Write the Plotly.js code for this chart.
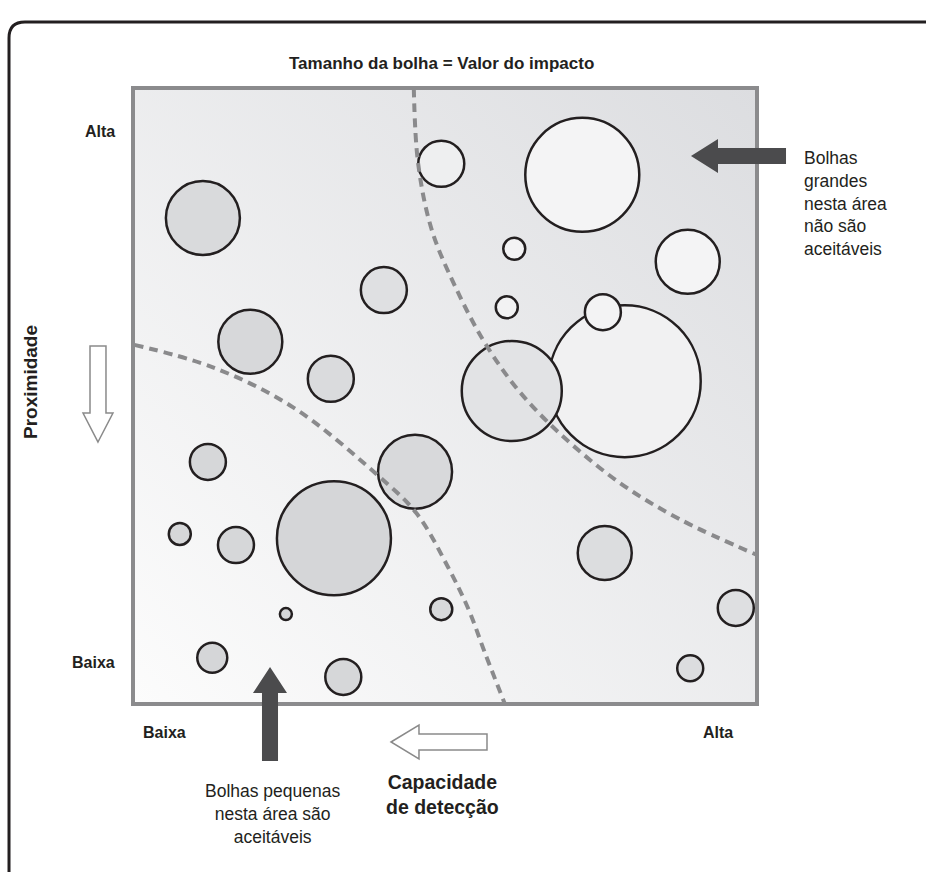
<!DOCTYPE html>
<html>
<head>
<meta charset="utf-8">
<script src="https://cdn.plot.ly/plotly-3.0.1.min.js"></script>
<style>
  body { margin: 0; background: #fff; }
  #chart { width: 926px; height: 872px; }
</style>
</head>
<body>
<div id="chart"></div>
<script>
// Bubble data (detection capacity on x, proximity on y, impact value = bubble diameter)
const capacidade = [4.94, 7.20, 1.12, 6.11, 8.89, 4.02, 5.99, 7.88, 6.07, 7.53, 1.88, 3.17, 1.20, 4.52, 0.75, 1.65, 3.22, 7.56, 4.94, 2.45, 9.66, 1.27, 3.37, 8.93];
const proximidade = [8.77, 8.59, 7.89, 7.39, 7.18, 6.72, 6.44, 5.24, 5.08, 6.36, 5.88, 5.28, 3.93, 3.77, 2.76, 2.58, 2.69, 2.45, 1.54, 1.46, 1.56, 0.75, 0.44, 0.58];
const impacto = [46, 114, 74, 22, 64, 46, 22, 152, 100, 36, 64, 46, 36, 74, 22, 36, 114, 54, 22, 12, 36, 30, 36, 26];
const corBolha = ['#eeeff0', '#f4f4f5', '#d9dadc', '#f3f3f4', '#f4f4f5', '#dfe0e2', '#f2f2f3', '#f1f1f2', '#e2e3e5', '#f3f3f4',
  '#d7d8da', '#dadbdd', '#d6d7d9', '#d8d9db', '#d6d7d9', '#d6d7d9', '#d5d6d8', '#dcdddf', '#d8d9db', '#d6d7d9',
  '#dedfe1', '#d5d6d8', '#d6d7d9', '#dcdddf'];

// Dashed boundaries between the zones
const limiteAltoX = [4.50, 4.57, 4.79, 5.19, 5.64, 6.17, 6.83, 7.80, 8.78, 10.0];
const limiteAltoY = [10.0, 8.77, 7.69, 6.72, 5.86, 5.10, 4.40, 3.59, 2.99, 2.42];
const limiteBaixoX = [0.02, 1.27, 2.56, 3.88, 4.54, 5.05, 5.38, 5.64, 5.96];
const limiteBaixoY = [5.83, 5.47, 4.82, 3.75, 3.10, 2.22, 1.53, 0.83, 0.0];

// plot area in pixels
const L = 133, T = 88, W = 624, H = 616;
const px = (x) => (x - L) / W;
const py = (y) => (T + H - y) / H;
const pt = (x, y) => px(x).toFixed(4) + ',' + py(y).toFixed(4);
const path = (pts) => 'M' + pts.map(p => pt(p[0], p[1])).join(' L') + ' Z';

const sans = 'Liberation Sans, Arial, sans-serif';

const bg = "<svg xmlns='http://www.w3.org/2000/svg' width='624' height='616'>" +
  "<defs><linearGradient id='g' x1='0' y1='1' x2='1' y2='0'>" +
  "<stop offset='0' stop-color='#fcfcfc'/><stop offset='1' stop-color='#dcdde0'/>" +
  "</linearGradient></defs><rect width='624' height='616' fill='url(#g)'/></svg>";

const data = [{
  type: 'scatter',
  mode: 'markers',
  x: capacidade,
  y: proximidade,
  marker: {
    size: impacto,
    sizemode: 'diameter',
    color: corBolha,
    opacity: 1,
    line: { color: '#231f20', width: 2.5 }
  },
  hoverinfo: 'skip',
  cliponaxis: false
}, {
  type: 'scatter',
  mode: 'lines',
  x: limiteAltoX,
  y: limiteAltoY,
  line: { color: '#8a8a8c', width: 4, dash: '9px,6px', shape: 'spline', smoothing: 1 },
  hoverinfo: 'skip'
}, {
  type: 'scatter',
  mode: 'lines',
  x: limiteBaixoX,
  y: limiteBaixoY,
  line: { color: '#8a8a8c', width: 4, dash: '9px,6px', shape: 'spline', smoothing: 1 },
  hoverinfo: 'skip'
}];

const axis = { range: [0, 10], showgrid: false, zeroline: false, showticklabels: false, showline: false, ticks: '', fixedrange: true };

const shapes = [
  // plot frame
  { type: 'rect', xref: 'paper', yref: 'paper', x0: 0, x1: 1, y0: 0, y1: 1, line: { color: '#8b8b8d', width: 4 }, layer: 'above' },
  // outer rounded frame (top-left corner only visible)
  { type: 'path', xref: 'paper', yref: 'paper', layer: 'above',
    path: 'M' + pt(9, 880) + ' L' + pt(9, 38) + ' Q' + pt(9, 22) + ' ' + pt(25, 22) + ' L' + pt(940, 22),
    line: { color: '#231f20', width: 3 } },
  // dark arrow pointing left (right side)
  { type: 'path', xref: 'paper', yref: 'paper', fillcolor: '#4b4b4d', line: { width: 0 },
    path: path([[691, 156], [718, 139], [718, 148], [786, 148], [786, 164], [718, 164], [718, 173]]) },
  // dark arrow pointing up (bottom)
  { type: 'path', xref: 'paper', yref: 'paper', fillcolor: '#4b4b4d', line: { width: 0 },
    path: path([[270, 667], [287, 693], [278, 693], [278, 761], [262, 761], [262, 693], [253, 693]]) },
  // outline arrow pointing down (proximity)
  { type: 'path', xref: 'paper', yref: 'paper', fillcolor: '#ffffff', line: { color: '#8a8a8a', width: 1.5 },
    path: path([[98, 442], [113, 413], [106, 413], [106, 346], [90, 346], [90, 413], [83, 413]]) },
  // outline arrow pointing left (detection capacity)
  { type: 'path', xref: 'paper', yref: 'paper', fillcolor: '#ffffff', line: { color: '#8a8a8a', width: 1.5 },
    path: path([[391, 742], [419, 725], [419, 734], [487, 734], [487, 750], [419, 750], [419, 759]]) }
];

function nota(text, x, y, font, xanchor) {
  return { text: text, x: px(x), y: py(y), xref: 'paper', yref: 'paper', showarrow: false,
    xanchor: xanchor || 'center', yanchor: 'middle', align: xanchor === 'left' ? 'left' : 'center', font: font };
}

const rotulo = { family: sans, size: 16, color: '#231f20', weight: 'bold' };
const titulo = { family: sans, size: 17, color: '#231f20', weight: 'bold' };
const texto = { family: sans, size: 17.5, color: '#231f20' };
const negrito = { family: sans, size: 19.5, color: '#231f20', weight: 'bold' };

const annotations = [
  nota('Tamanho da bolha = Valor do impacto', 441, 63, titulo),
  nota('Alta', 117, 132, rotulo, 'right'),
  nota('Baixa', 117, 662, rotulo, 'right'),
  nota('Baixa', 141, 732, rotulo, 'left'),
  nota('Alta', 718, 732, rotulo),
  nota('Bolhas<br>grandes<br>nesta área<br>não são<br>aceitáveis', 802, 203, texto, 'left'),
  nota('Bolhas pequenas<br>nesta área são<br>aceitáveis', 272, 814, texto),
  nota('Capacidade<br>de detecção', 442, 794, negrito),
  Object.assign(nota('Proximidade', 30, 382, { family: sans, size: 19, color: '#231f20', weight: 'bold' }), { textangle: -90 })
];

const layout = {
  width: 926,
  height: 872,
  margin: { l: L, r: 926 - L - W, t: T, b: 872 - T - H, pad: 0 },
  paper_bgcolor: '#ffffff',
  plot_bgcolor: 'rgba(0,0,0,0)',
  showlegend: false,
  xaxis: axis,
  yaxis: axis,
  shapes: shapes,
  annotations: annotations,
  images: [{
    source: 'data:image/svg+xml;charset=utf-8,' + encodeURIComponent(bg),
    xref: 'paper', yref: 'paper', x: 0, y: 1, sizex: 1, sizey: 1,
    sizing: 'stretch', xanchor: 'left', yanchor: 'top', layer: 'below'
  }]
};

Plotly.newPlot('chart', data, layout, { displayModeBar: false, staticPlot: true });
</script>
</body>
</html>
